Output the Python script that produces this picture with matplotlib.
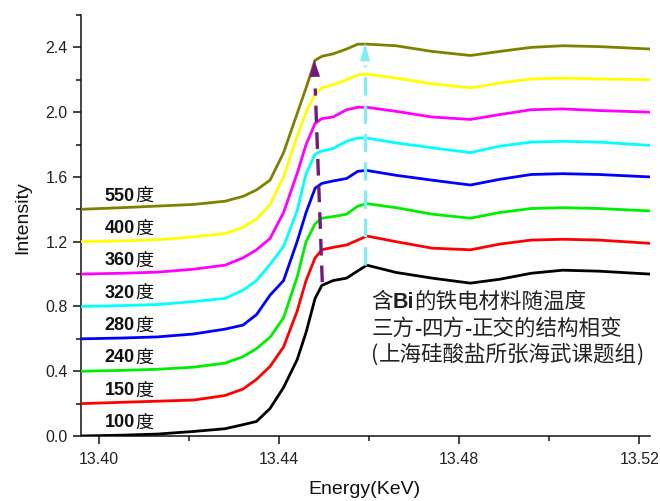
import matplotlib
matplotlib.use("Agg")
import matplotlib.pyplot as plt
import matplotlib.transforms as mtransforms
from matplotlib.ticker import MultipleLocator, FormatStrFormatter

# Photon energy grid (keV)
energy = [13.396, 13.405, 13.413, 13.421, 13.428, 13.432, 13.435, 13.438,
          13.441, 13.444, 13.446, 13.448, 13.4495, 13.452, 13.455, 13.4575,
          13.4595, 13.466, 13.474, 13.4825, 13.489, 13.496, 13.503, 13.511,
          13.5224]

# Normalised absorption spectra, one per temperature
mu_100 = [0.0, 0.005, 0.012, 0.028, 0.045, 0.07, 0.09, 0.17, 0.30, 0.47, 0.64,
          0.85, 0.93, 0.96, 0.975, 1.02, 1.055, 1.01, 0.975, 0.944, 0.968,
          1.005, 1.024, 1.018, 1.0]
mu_150 = [0.0, 0.008, 0.015, 0.022, 0.05, 0.09, 0.15, 0.23, 0.35, 0.57, 0.76,
          0.90, 0.95, 0.965, 0.98, 1.01, 1.035, 1.0, 0.96, 0.95, 0.985, 1.01,
          1.015, 1.01, 0.99]
mu_240 = [0.0, 0.005, 0.012, 0.025, 0.05, 0.09, 0.14, 0.21, 0.33, 0.58, 0.80,
          0.91, 0.945, 0.955, 0.97, 1.02, 1.035, 1.01, 0.97, 0.945, 0.98,
          1.005, 1.01, 1.005, 0.99]
mu_280 = [0.0, 0.005, 0.012, 0.03, 0.06, 0.085, 0.15, 0.27, 0.36, 0.60, 0.78,
          0.93, 0.96, 0.975, 0.99, 1.035, 1.04, 1.01, 0.98, 0.95, 0.985, 1.015,
          1.02, 1.015, 1.0]
mu_320 = [0.0, 0.005, 0.012, 0.03, 0.05, 0.10, 0.16, 0.26, 0.37, 0.59, 0.82,
          0.94, 0.96, 0.975, 1.02, 1.04, 1.04, 1.01, 0.98, 0.95, 0.99, 1.015,
          1.02, 1.015, 0.995]
mu_360 = [0.0, 0.005, 0.012, 0.03, 0.055, 0.10, 0.15, 0.22, 0.38, 0.62, 0.80,
          0.93, 0.96, 0.97, 1.015, 1.03, 1.03, 1.005, 0.97, 0.955, 0.985,
          1.015, 1.02, 1.01, 1.0]
mu_400 = [0.0, 0.005, 0.012, 0.03, 0.05, 0.09, 0.14, 0.23, 0.40, 0.65, 0.80,
          0.91, 0.95, 0.97, 1.0, 1.03, 1.035, 1.01, 0.975, 0.95, 0.98, 1.005,
          1.01, 1.005, 1.0]
mu_550 = [0.0, 0.01, 0.02, 0.03, 0.05, 0.08, 0.12, 0.18, 0.35, 0.59, 0.75,
          0.92, 0.945, 0.96, 0.99, 1.02, 1.02, 1.01, 0.975, 0.95, 0.975, 1.0,
          1.01, 1.005, 0.99]

spectra = [mu_100, mu_150, mu_240, mu_280, mu_320, mu_360, mu_400, mu_550]
temps = ["100", "150", "240", "280", "320", "360", "400", "550"]
offsets = [0.0, 0.2, 0.4, 0.6, 0.8, 1.0, 1.2, 1.4]
colors = ["#000000", "#ff0000", "#00ee00", "#0000ff", "#00ffff", "#ff00ff",
          "#ffff00", "#808000"]

# Guide arrows: edge shift and white-line peak (energy, intensity)
edge_arrow = [(13.4496, 0.95), (13.4478, 2.325)]
peak_arrow = [(13.4591, 1.055), (13.4591, 2.43)]

note_lines = [
    [("含", False), ("Bi", True), ("的铁电材料随温度", False)],
    [("三方", False), ("-", True), ("四方", False), ("-", True), ("正交的结构相变", False)],
    [("(", False), ("上海硅酸盐所张海武课题组", False), (")", False)],
]

LATIN = "Liberation Sans"
CJK = "Noto Sans CJK SC"

fig = plt.figure(figsize=(6.6, 5.01), dpi=100)
ax = fig.add_axes([81 / 660, 65 / 501, 569 / 660, 421 / 501])

for mu, off, c in zip(spectra, offsets, colors):
    ax.plot(energy, [v + off for v in mu], color=c, lw=2.0, solid_joinstyle="round",
            zorder=3)

ax.set_xlim(13.396, 13.5224)
ax.set_ylim(0.0, 2.6)
ax.xaxis.set_major_locator(MultipleLocator(0.04))
ax.xaxis.set_minor_locator(MultipleLocator(0.02))
ax.yaxis.set_major_locator(MultipleLocator(0.4))
ax.yaxis.set_minor_locator(MultipleLocator(0.2))
ax.xaxis.set_major_formatter(FormatStrFormatter("%.2f"))
ax.yaxis.set_major_formatter(FormatStrFormatter("%.1f"))

for side in ("top", "right"):
    ax.spines[side].set_visible(False)
for side in ("left", "bottom"):
    ax.spines[side].set_linewidth(1.1)
    ax.spines[side].set_color("#111111")

ax.tick_params(which="major", direction="out", length=5.5, width=1.1,
               labelsize=11.5, labelcolor="#222222", color="#111111")
ax.tick_params(which="minor", direction="out", length=3.5, width=1.1,
               color="#111111")
ax.tick_params(axis="x", which="major", pad=6)
ax.tick_params(axis="y", which="major", pad=4)
for lab in ax.get_xticklabels() + ax.get_yticklabels():
    lab.set_fontfamily(LATIN)

ax.set_xlabel("Energy(KeV)", fontsize=14, family=LATIN, color="#111111",
              va="center", ha="center")
ax.set_ylabel("Intensity", fontsize=14, family=LATIN, color="#111111",
              va="center", ha="center")
ax.xaxis.set_label_coords(0.499, -0.128)
ax.yaxis.set_label_coords(-0.102, 0.518)

# Edge-shift arrow (dashed purple)
purple = "#701a7c"
(x0, y0), (x1, y1) = edge_arrow
frac = 0.87
ax.plot([x0, x0 + (x1 - x0) * frac], [y0, y0 + (y1 - y0) * frac], color=purple,
        lw=2.4, dashes=(5.0, 3.0), zorder=4)
ax.annotate("", xy=(x1, y1), xytext=(x0 + (x1 - x0) * 0.93, y0 + (y1 - y0) * 0.93),
            arrowprops=dict(arrowstyle="-|>,head_length=1.25,head_width=0.38",
                            color=purple, lw=0, shrinkA=0, shrinkB=0), zorder=5)

# White-line peak arrow (dashed light cyan)
lcyan = "#80eef6"
(x0, y0), (x1, y1) = peak_arrow
ax.plot([x0, x1], [y0, y0 + (y1 - y0) * 0.9], color=lcyan, lw=2.4,
        dashes=(5.5, 3.0), zorder=4)
ax.annotate("", xy=(x1, y1), xytext=(x1, y0 + (y1 - y0) * 0.93),
            arrowprops=dict(arrowstyle="-|>,head_length=1.35,head_width=0.36",
                            color=lcyan, lw=0, shrinkA=0, shrinkB=0), zorder=5)

fig.canvas.draw()
renderer = fig.canvas.get_renderer()


def text_run(x, y, parts, size, color, transform):
    """Write consecutive pieces of text side by side, each in its own font."""
    dx = 0.0
    for s, bold in parts:
        fam = [LATIN, CJK] if bold else [CJK, LATIN]
        t = ax.text(x, y, s, fontsize=size, color=color, family=fam,
                    fontweight="bold" if bold else "normal", ha="left",
                    va="center", zorder=6,
                    transform=mtransforms.offset_copy(transform, fig=fig, x=dx,
                                                      y=0, units="dots"))
        dx += t.get_window_extent(renderer).width


# Temperature labels above each curve
for temp, off in zip(temps, offsets):
    text_run(13.4013, off + 0.082, [(temp, True), ("度", False)], 13,
             "#111111", ax.transData)

# Note block
note_y = [0.827, 0.660, 0.500]
for parts, ny in zip(note_lines, note_y):
    text_run(13.4605, ny, parts, 15.5, "#222222", ax.transData)

fig.savefig("out.png", dpi=100)
